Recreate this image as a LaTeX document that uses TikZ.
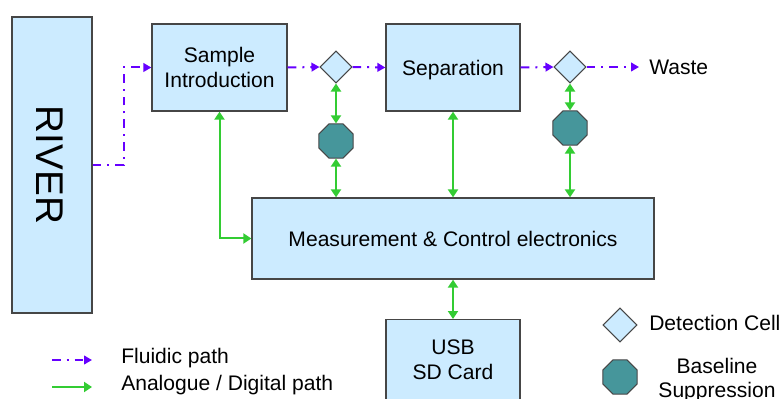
\documentclass[tikz,border=0pt]{standalone}
\usepackage{fontspec}
\setmainfont{Liberation Sans}
\usetikzlibrary{arrows.meta,shapes.geometric}
\definecolor{boxfill}{RGB}{204,235,255}
\definecolor{boxline}{RGB}{70,70,70}
\definecolor{fluidcol}{RGB}{102,0,255}
\definecolor{signalcol}{RGB}{51,204,51}
\definecolor{suppcol}{RGB}{70,150,155}
\newcommand\pxl{0.75pt}

\begin{document}
\begin{tikzpicture}[x=0.75pt,y=-0.75pt,
  block/.style={draw=boxline, fill=boxfill, line width=1pt, inner sep=0pt,
    align=center, font=\fontsize{15.8}{19}\selectfont},
  cell/.style={diamond, draw=boxline, fill=boxfill, line width=0.8pt,
    inner sep=0pt, minimum width=32*\pxl, minimum height=32*\pxl},
  supp/.style={regular polygon, regular polygon sides=8, draw=boxline,
    fill=suppcol, line width=0.8pt, inner sep=0pt, minimum size=37*\pxl},
  fluidpath/.style={draw=fluidcol, line width=1.5pt,
    dash pattern=on 6.5pt off 4.5pt on 1.5pt off 4.5pt,
    -{Triangle[length=6pt,width=6.5pt]}},
  sigpath/.style={draw=signalcol, line width=1.5pt,
    {Triangle[length=6pt,width=7.5pt]}-{Triangle[length=6pt,width=7.5pt]}},
  sigone/.style={draw=signalcol, line width=1.5pt,
    -{Triangle[length=6pt,width=7.5pt]}},
  txt/.style={font=\fontsize{15.8}{19}\selectfont, inner sep=0pt, align=center}
]
\clip (0,0) rectangle (782,399);

% main blocks
\node[block, minimum width=80*\pxl, minimum height=296*\pxl] (river) at (52,165) {};
\node[rotate=-90, inner sep=0pt, font=\fontsize{29}{34}\selectfont] at (50,165) {RIVER};
\node[block, minimum width=135*\pxl, minimum height=87*\pxl] (sample) at (219.5,67.5) {Sample\\Introduction};
\node[block, minimum width=134*\pxl, minimum height=87*\pxl, text depth=0pt] (sep) at (453,67.5) {Separation};
\node[block, minimum width=402*\pxl, minimum height=81*\pxl] (meas) at (453,238.5) {Measurement \& Control electronics};
\node[block, minimum width=134*\pxl, minimum height=111*\pxl, anchor=north] (usb) at (453,319) {};
\node[txt, font=\fontsize{15.8}{18.75}\selectfont] (usbtxt) at (453,360) {USB\\SD Card};

% detection cells and baseline suppression
\node[cell] (d1) at (336,67) {};
\node[supp] (o1) at (336,141) {};
\node[cell] (d2) at (570,67) {};
\node[supp] (o2) at (570,128) {};
\node[txt, anchor=west] (waste) at (649,67) {Waste};

% fluidic path
\draw[fluidpath] (river.east) -- ++(31,0) |- (sample.west);
\draw[fluidpath] (sample.east) -- (d1.west);
\draw[fluidpath] (d1.east) -- (sep.west);
\draw[fluidpath] (sep.east) -- (d2.west);
\draw[fluidpath] (d2.east) -- ([xshift=-7.5pt]waste.west);

% analogue / digital path
\draw[sigpath] (sample.south) |- (meas.west);
\draw[sigpath] (d1.south) -- (o1.north);
\draw[sigpath] (o1.south) -- (o1.south |- meas.north);
\draw[sigpath] (sep.south) -- (sep.south |- meas.north);
\draw[sigpath] (d2.south) -- (o2.north);
\draw[sigpath] (o2.south) -- (o2.south |- meas.north);
\draw[sigpath] (meas.south) -- (usb.north);

% legend
\coordinate (lf1) at (52,360);
\coordinate (lf2) at (92,360);
\coordinate (ls1) at (52,387);
\coordinate (ls2) at (92,387);
\draw[fluidpath] (lf1) -- (lf2);
\draw[sigone] (ls1) -- (ls2);
\node[txt, anchor=west] (lftxt) at (121,358) {Fluidic path};
\node[txt, anchor=west] (lstxt) at (121,385) {Analogue / Digital path};
\node[cell, minimum width=34*\pxl, minimum height=34*\pxl] (ld) at (620,325) {};
\node[txt, anchor=west] (ldtxt) at (649,323) {Detection Cell};
\node[supp, minimum size=37*\pxl] (lo) at (620,377) {};
\node[txt, font=\fontsize{15.8}{18}\selectfont] (lotxt) at (717,380) {Baseline\\Suppression};
\end{tikzpicture}
\end{document}
